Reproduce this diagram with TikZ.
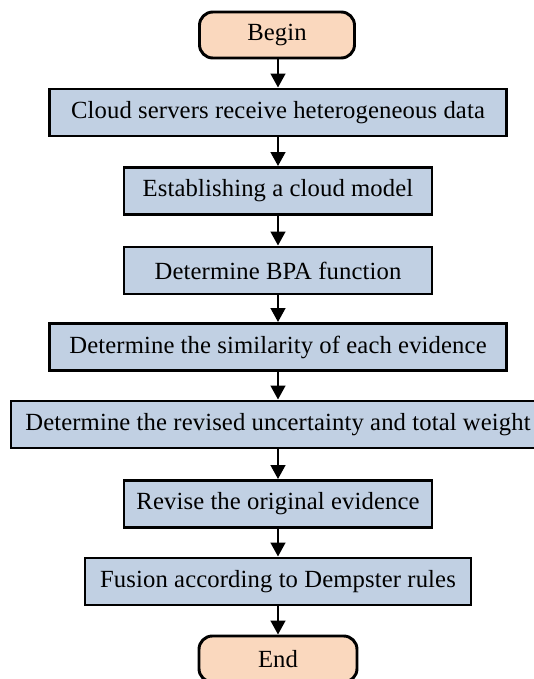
\documentclass[tikz,border=0pt]{standalone}
\usepackage{fontspec}
\setmainfont{Liberation Serif}[LetterSpace=0.5]
\usetikzlibrary{arrows.meta}
\definecolor{boxblue}{RGB}{193,208,227}
\definecolor{termpeach}{RGB}{250,216,190}
\tikzset{
  proc/.style={draw=black, fill=boxblue, line width=2.2pt, minimum height=35.25pt, inner sep=0pt, font=\fontsize{18.5}{21}\selectfont},
  term/.style={draw=black, fill=termpeach, line width=2.2pt, rounded corners=10pt, minimum height=34.5pt, inner sep=0pt, font=\fontsize{18.5}{21}\selectfont},
  flow/.style={line width=1.8pt, -{Triangle[length=10.5pt,width=11pt]}}
}
\begin{document}
\begin{tikzpicture}[x=0.75pt,y=-0.75pt]
\useasboundingbox (0,0) rectangle (533,679);
\node[term, minimum width=116.25pt] (begin) at (277,35) {Begin};
\node[proc, minimum width=342.75pt] (b1) at (278,112.5) {Cloud servers receive heterogeneous data};
\node[proc, minimum width=231pt] (b2) at (278,191) {Establishing a cloud model};
\node[proc, minimum width=231pt] (b3) at (278,270.5) {Determine BPA function};
\node[proc, minimum width=342.75pt] (b4) at (278,347) {Determine the similarity of each evidence};
\node[proc, minimum width=400.5pt] (b5) at (278,424.5) {Determine the revised uncertainty and total weight};
\node[proc, minimum width=231pt] (b6) at (278,504) {Revise the original evidence};
\node[proc, minimum width=289.5pt] (b7) at (278,581.5) {Fusion according to Dempster rules};
\node[term, minimum width=118.5pt] (end) at (278,659) {End};
\draw[flow] (begin.south -| b1.north) -- (b1.north);
\draw[flow] (b1) -- (b2);
\draw[flow] (b2) -- (b3);
\draw[flow] (b3) -- (b4);
\draw[flow] (b4) -- (b5);
\draw[flow] (b5) -- (b6);
\draw[flow] (b6) -- (b7);
\draw[flow] (b7) -- (end);
\end{tikzpicture}
\end{document}
